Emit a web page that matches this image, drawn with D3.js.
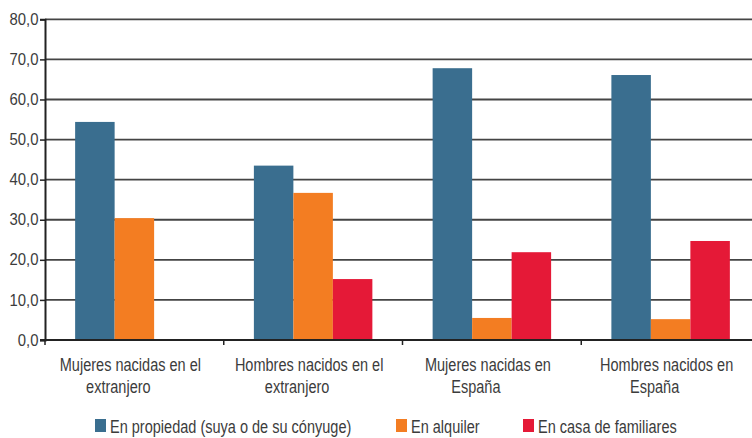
<!DOCTYPE html>
<html>
<head>
<meta charset="utf-8">
<script src="https://cdn.jsdelivr.net/npm/d3@7"></script>
<style>
  html, body { margin: 0; padding: 0; background: #fff; }
  svg text { font-family: "Liberation Sans", Arial, sans-serif; fill: #3c3c3c; }
</style>
</head>
<body>
<svg id="chart" width="752" height="438"></svg>
<script>
// Categories (two-line labels) and series
const categories = ["Mujeres nacidas en el extranjero", "Hombres nacidos en el extranjero", "Mujeres nacidas en España", "Hombres nacidos en España"];
const categoryLines = [["Mujeres nacidas en el", "extranjero"], ["Hombres nacidos en el", "extranjero"], ["Mujeres nacidas en", "España"], ["Hombres nacidos en", "España"]];
const seriesNames = ["En propiedad (suya o de su cónyuge)", "En alquiler", "En casa de familiares"];
const seriesColors = ["#3a6e8f", "#f37d22", "#e51937"];
const propiedad = [54.4, 43.5, 67.8, 66.1];
const alquiler = [30.4, 36.7, 5.5, 5.2];
const familiares = [0, 15.2, 21.9, 24.7];
const yTicks = [0, 10, 20, 30, 40, 50, 60, 70, 80];

const seriesValues = [propiedad, alquiler, familiares];
const rows = categories.map((c, i) => ({
  category: c,
  values: seriesNames.map((s, j) => ({ series: s, value: seriesValues[j][i], color: seriesColors[j] }))
}));

const svg = d3.select("#chart");
const plotLeft = 45, plotRight = 760, plotTop = 19.3, plotBottom = 340;
const narrow = 0.785; // horizontal squeeze for a condensed look
const labelSize = 18.5;

const x = d3.scaleBand().domain(categories).range([plotLeft, plotRight]).padding(0);
const xInner = d3.scaleBand().domain(seriesNames).range([0, x.bandwidth()]).paddingInner(0).paddingOuter(0.763);
const y = d3.scaleLinear().domain([0, 80]).range([plotBottom, plotTop]);

// Horizontal gridlines
svg.append("g")
  .selectAll("line")
  .data(yTicks.filter(d => d > 0))
  .join("line")
  .attr("x1", plotLeft).attr("x2", 752)
  .attr("y1", d => y(d)).attr("y2", d => y(d))
  .attr("stroke", "#444").attr("stroke-width", 1.8);

// Bars
svg.append("g")
  .selectAll("g")
  .data(rows)
  .join("g")
  .attr("transform", d => `translate(${x(d.category)},0)`)
  .selectAll("rect")
  .data(d => d.values)
  .join("rect")
  .attr("x", d => xInner(d.series))
  .attr("width", xInner.bandwidth())
  .attr("y", d => y(d.value))
  .attr("height", d => y(0) - y(d.value))
  .attr("fill", d => d.color);

// Y axis
const yAxis = svg.append("g")
  .attr("transform", `translate(${plotLeft},0)`)
  .call(d3.axisLeft(y).tickValues(yTicks).tickSize(5).tickPadding(2)
    .tickFormat(d => d.toFixed(1).replace(".", ",")));
yAxis.select(".domain").attr("stroke", "#222").attr("stroke-width", 2);
yAxis.selectAll(".tick line").attr("stroke", "#222").attr("stroke-width", 1.5);
yAxis.selectAll(".tick text")
  .attr("font-size", 16)
  .attr("fill", "#3c3c3c")
  .attr("transform", "scale(0.93,1)");

// X axis baseline and category boundary ticks
svg.append("line")
  .attr("x1", plotLeft - 5).attr("x2", 752)
  .attr("y1", y(0)).attr("y2", y(0))
  .attr("stroke", "#222").attr("stroke-width", 2);
const boundaries = categories.map(c => x(c)).concat([plotRight]);
svg.append("g")
  .selectAll("line")
  .data(boundaries)
  .join("line")
  .attr("x1", d => d).attr("x2", d => d)
  .attr("y1", y(0)).attr("y2", y(0) + 5)
  .attr("stroke", "#222").attr("stroke-width", 1.5);

// Category labels (two lines each)
const labelGroups = svg.append("g")
  .selectAll("g")
  .data(categories)
  .join("g")
  .attr("transform", c => `translate(${x(c) + x.bandwidth() / 2},0)`);
labelGroups.each(function (c, i) {
  const g = d3.select(this);
  [[-4, 371], [-16, 393]].forEach(([dx, ly], k) => {
    g.append("text")
      .attr("transform", `translate(${dx},${ly}) scale(${narrow},1)`)
      .attr("text-anchor", "middle")
      .attr("font-size", labelSize)
      .text(categoryLines[i][k]);
  });
});

// Legend
const legendX = [95, 396, 523];
const legend = svg.append("g")
  .selectAll("g")
  .data(seriesNames)
  .join("g")
  .attr("transform", (d, i) => `translate(${legendX[i]},419)`);
legend.append("rect")
  .attr("width", 11).attr("height", 13)
  .attr("fill", (d, i) => seriesColors[i]);
legend.append("text")
  .attr("transform", `translate(15,13.5) scale(${narrow},1)`)
  .attr("font-size", labelSize)
  .text(d => d);
</script>
</body>
</html>
